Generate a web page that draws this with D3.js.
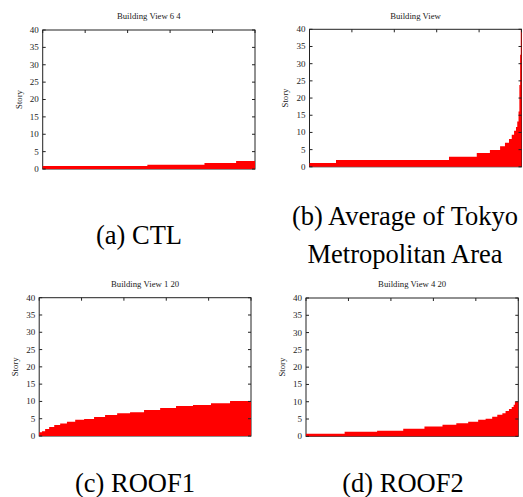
<!DOCTYPE html>
<html><head><meta charset="utf-8">
<script src="https://cdn.jsdelivr.net/npm/d3@7"></script>
<style>html,body{margin:0;padding:0;background:#fff;} svg{display:block;}</style>
</head><body>
<svg id="chart" width="523" height="497"></svg>
<script>
// ---- data (building rank in %, story height of each step) ----
const yTicks = [0, 5, 10, 15, 20, 25, 30, 35, 40];
const xTicks = [0, 20, 40, 60, 80, 100];

const ctlX = [0, 49.3, 76.2, 91.1];
const ctlY = [0.85, 1.2, 1.7, 2.3];

const tokyoX = [0, 12.5, 65.8, 78.9, 85.1, 89.9, 92.2, 94.1, 95.4, 96.5, 97.4, 98.0, 98.6, 99.0, 99.35, 99.65];
const tokyoY = [1.1, 2.0, 2.9, 4.0, 4.9, 6.0, 7.0, 8.1, 9.3, 10.5, 11.6, 13.2, 16.1, 23.8, 32.6, 40];

const roof1X = [0, 1.3, 2.8, 4.7, 7.1, 9.9, 13.1, 17.0, 21.2, 25.9, 31.1, 36.8, 42.9, 49.5, 57.1, 64.6, 72.6, 81.1, 90.1];
const roof1Y = [1.1, 1.4, 2.0, 2.6, 3.2, 3.6, 4.1, 4.7, 4.9, 5.5, 6.1, 6.6, 6.9, 7.5, 8.1, 8.7, 9.0, 9.5, 10.1];

const roof2X = [0, 18.2, 33.5, 45.8, 55.8, 64.3, 70.8, 76.4, 81.1, 84.6, 87.7, 90.1, 92.5, 94.0, 95.6, 96.9, 97.8, 98.4];
const roof2Y = [0.75, 1.3, 1.6, 2.2, 2.8, 3.35, 3.75, 4.2, 4.8, 5.1, 5.65, 6.2, 6.7, 7.3, 7.9, 8.5, 9.1, 10.1];

const titles = ["Building View 6 4", "Building View", "Building View 1 20", "Building View 4 20"];
const yLabel = "Story";
const captions = [
  {lines: ["(a) CTL"], cx: 139, y: 244},
  {lines: ["(b) Average of Tokyo", "Metropolitan Area"], cx: 405, y: 225},
  {lines: ["(c) ROOF1"], cx: 135, y: 491.5},
  {lines: ["(d) ROOF2"], cx: 403, y: 491.5}
];

// ---- layout ----
const panels = [
  {title: titles[0], xs: ctlX,   ys: ctlY,   left: 42.7,  top: 30,    w: 212.3, h: 139},
  {title: titles[1], xs: tokyoX, ys: tokyoY, left: 309.5, top: 29.3,  w: 212,   h: 137.5},
  {title: titles[2], xs: roof1X, ys: roof1Y, left: 39.2,  top: 297.7, w: 211.8, h: 138.3},
  {title: titles[3], xs: roof2X, ys: roof2Y, left: 306,   top: 298,   w: 212.3, h: 138.3}
];

const svg = d3.select("#chart");
const serif = "'Liberation Serif','Times New Roman',serif";
const frameColor = "#222";
const tickLen = 3;

panels.forEach(p => {
  const g = svg.append("g").attr("transform", `translate(${p.left},${p.top})`);
  const x = d3.scaleLinear().domain([0, 100]).range([0, p.w]);
  const y = d3.scaleLinear().domain([0, 40]).range([p.h, 0]);

  // data as step points, closed at the right edge
  const pts = p.xs.map((v, i) => ({x: v, y: p.ys[i]}));
  pts.push({x: 100, y: p.ys[p.ys.length - 1]});

  // frame
  g.append("rect").attr("x", 0).attr("y", 0).attr("width", p.w).attr("height", p.h)
    .attr("fill", "none").attr("stroke", frameColor).attr("stroke-width", 1);

  // red step area
  const area = d3.area().curve(d3.curveStepAfter)
    .x(d => x(d.x)).y0(y(0)).y1(d => y(d.y));
  g.append("path").datum(pts).attr("d", area).attr("fill", "#ff0000");

  // y ticks (left + right, inward)
  yTicks.forEach(t => {
    g.append("line").attr("x1", 0).attr("x2", tickLen).attr("y1", y(t)).attr("y2", y(t))
      .attr("stroke", frameColor);
    g.append("line").attr("x1", p.w).attr("x2", p.w - tickLen).attr("y1", y(t)).attr("y2", y(t))
      .attr("stroke", frameColor);
    g.append("text").attr("x", -4).attr("y", y(t)).attr("dy", "0.33em")
      .attr("text-anchor", "end").attr("font-family", serif).attr("font-size", 9)
      .attr("fill", "#222").text(t);
  });
  // x ticks (top, inward)
  xTicks.forEach(t => {
    g.append("line").attr("x1", x(t)).attr("x2", x(t)).attr("y1", 0).attr("y2", tickLen)
      .attr("stroke", frameColor);
  });

  // title
  g.append("text").attr("x", p.w / 2).attr("y", -10.7).attr("text-anchor", "middle")
    .attr("font-family", serif).attr("font-size", 8.7).attr("fill", "#222").text(p.title);

  // y label
  g.append("text").attr("transform", `translate(-24,${p.h / 2}) rotate(-90)`)
    .attr("text-anchor", "middle").attr("dy", "0.33em")
    .attr("font-family", serif).attr("font-size", 8.7).attr("fill", "#222").text(yLabel);
});

// captions
captions.forEach(c => {
  c.lines.forEach((l, i) => {
    svg.append("text").attr("x", c.cx).attr("y", c.y + i * 37.7).attr("text-anchor", "middle")
      .attr("font-family", serif).attr("font-size", 26.5).attr("fill", "#000").text(l);
  });
});
</script>
</body></html>
